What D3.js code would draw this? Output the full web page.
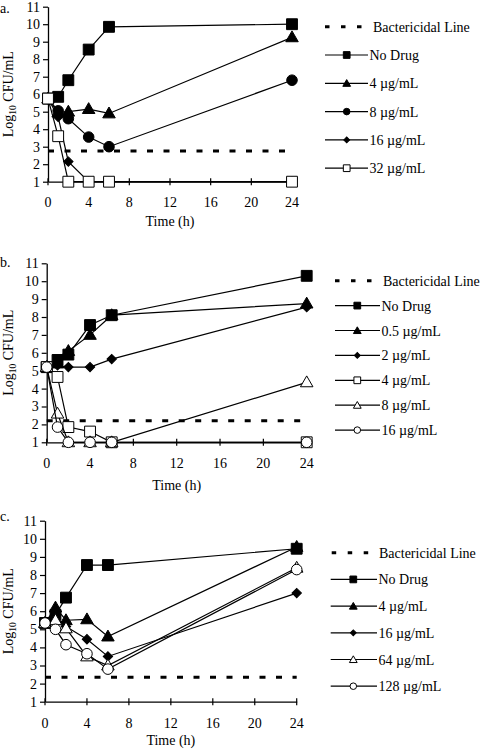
<!DOCTYPE html>
<html><head><meta charset="utf-8">
<script src="https://cdn.jsdelivr.net/npm/d3@7"></script>
<style>body{margin:0;background:#fff} text{font-family:"Liberation Serif","Times New Roman",serif;fill:#000}</style>
</head><body><svg id="chart" width="482" height="750"></svg>
<script>
// ---------- data ----------
const times = [0, 1, 2, 4, 6, 24];
const xTicks = [0, 4, 8, 12, 16, 20, 24];
const yTicks = [1, 2, 3, 4, 5, 6, 7, 8, 9, 10, 11];
const bactLabel = "Bactericidal Line";

// panel a
const labelsA = ["No Drug", "4 µg/mL", "8 µg/mL", "16 µg/mL", "32 µg/mL"];
const markersA = ["squareFilled", "triangleFilled", "circleFilled", "diamondFilled", "squareOpen"];
const noDrugA = [5.75, 5.85, 6.8, 8.55, 9.85, 10.0];
const conc4A  = [5.75, 4.95, 5.0, 5.15, 4.9, 9.25];
const conc8A  = [5.75, 5.05, 4.6, 3.55, 3.0, 6.8];
const conc16A = [5.75, 4.7, 2.15, 1.0, 1.0, 1.0];
const conc32A = [5.75, 3.6, 1.0, 1.0, 1.0, 1.0];
const bactA = 2.75;

// panel b
const labelsB = ["No Drug", "0.5 µg/mL", "2 µg/mL", "4 µg/mL", "8 µg/mL", "16 µg/mL"];
const markersB = ["squareFilled", "triangleFilled", "diamondFilled", "squareOpen", "triangleOpen", "circleOpen"];
const noDrugB  = [5.2, 5.6, 5.9, 7.55, 8.1, 10.3];
const conc05B  = [5.2, 5.4, 6.1, 7.0, 8.1, 8.75];
const conc2B   = [5.2, 5.3, 5.2, 5.2, 5.65, 8.55];
const conc4B   = [5.2, 4.65, 1.85, 1.6, 1.0, 1.0];
const conc8B   = [5.2, 2.6, 1.0, 1.0, 1.0, 4.35];
const conc16B  = [5.2, 1.85, 1.0, 1.0, 1.0, 1.0];
const bactB = 2.2;

// panel c
const labelsC = ["No Drug", "4 µg/mL", "16 µg/mL", "64 µg/mL", "128 µg/mL"];
const markersC = ["squareFilled", "triangleFilled", "diamondFilled", "triangleOpen", "circleOpen"];
const noDrugC   = [5.35, 5.8, 6.75, 8.55, 8.55, 9.45];
const conc4C    = [5.35, 6.2, 5.5, 5.55, 4.6, 9.55];
const conc16C   = [5.35, 5.7, 5.15, 4.45, 3.5, 7.0];
const conc64C   = [5.35, 5.5, 5.05, 3.5, 3.0, 8.4];
const conc128C  = [5.35, 5.0, 4.15, 3.65, 2.8, 8.3];
const bactC = 2.35;

// ---------- layout ----------
const panels = [
  {tag: "a.", tagY: 12.5, labels: labelsA, markers: markersA, series: [noDrugA, conc4A, conc8A, conc16A, conc32A], bact: bactA,
   x0: 48, x1: 292, yTop: 6.7, yBot: 181.7, tickBase: 207, titleBase: 226,
   leg: {dash0: 325, dash1: 362, dashText: 373, line0: 325, line1: 368, mark: 346.7, text: 369.5, y0: 26.7, dy: 28.3}},
  {tag: "b.", tagY: 267, labels: labelsB, markers: markersB, series: [noDrugB, conc05B, conc2B, conc4B, conc8B, conc16B], bact: bactB,
   x0: 46.7, x1: 306.7, yTop: 263.3, yBot: 442.3, tickBase: 468, titleBase: 490,
   leg: {dash0: 335, dash1: 373, dashText: 383, line0: 335, line1: 380, mark: 357.3, text: 381.5, y0: 280.7, dy: 24.9}},
  {tag: "c.", tagY: 521, labels: labelsC, markers: markersC, series: [noDrugC, conc4C, conc16C, conc64C, conc128C], bact: bactC,
   x0: 45, x1: 296.7, yTop: 520.7, yBot: 701.7, tickBase: 727.5, titleBase: 745,
   leg: {dash0: 331.7, dash1: 369, dashText: 379, line0: 330.7, line1: 377, mark: 353.3, text: 378.5, y0: 552.7, dy: 26.7}}
];

const svg = d3.select("#chart");

function drawMarker(g, type, x, y, small) {
  const k = small ? 0.62 : 1;
  const filled = type.endsWith("Filled");
  let shape, size, rot = 0;
  if (type.startsWith("square")) { shape = d3.symbolSquare; size = 118; }
  else if (type.startsWith("triangle")) { shape = d3.symbolTriangle; size = 68; }
  else if (type.startsWith("circle")) { shape = d3.symbolCircle; size = 88; }
  else { shape = d3.symbolSquare; size = 44; rot = 45; }
  g.append("path")
    .attr("d", d3.symbol().type(shape).size(size * k * k)())
    .attr("transform", `translate(${x},${y}) rotate(${rot})` + (type.startsWith("triangle") ? " translate(0,0.8)" : ""))
    .attr("fill", filled ? "#000" : "#fff")
    .attr("stroke", "#000").attr("stroke-width", 1);
}

panels.forEach(p => {
  const g = svg.append("g");
  const x = d3.scaleLinear().domain([0, 24]).range([p.x0, p.x1]);
  const y = d3.scaleLinear().domain([1, 11]).range([p.yBot, p.yTop]);

  g.append("text").attr("x", 0).attr("y", p.tagY).attr("font-size", 14).text(p.tag);

  // y axis
  const ya = g.append("g").attr("transform", `translate(${p.x0},0)`)
    .call(d3.axisLeft(y).tickValues(yTicks).tickSize(5).tickSizeOuter(0).tickPadding(3));
  ya.select(".domain").attr("stroke", "#000").attr("stroke-width", 1.3);
  ya.selectAll(".tick line").attr("stroke", "#000").attr("stroke-width", 1.2);
  ya.selectAll(".tick text").attr("font-size", 14).attr("font-family", '"Liberation Serif",serif').attr("fill", "#000");

  // x axis (ticks crossing the axis)
  const xa = g.append("g").attr("transform", `translate(0,${p.yBot})`)
    .call(d3.axisBottom(x).tickValues(xTicks).tickSize(0).tickSizeOuter(0).tickFormat(() => ""));
  xa.select(".domain").attr("stroke", "#000").attr("stroke-width", 1.3);
  g.selectAll(null).data(xTicks).enter().append("line")
    .attr("x1", d => x(d)).attr("x2", d => x(d))
    .attr("y1", p.yBot - 3.5).attr("y2", p.yBot + 3.5)
    .attr("stroke", "#000").attr("stroke-width", 1.2);
  g.selectAll(null).data(xTicks).enter().append("text")
    .attr("x", d => x(d)).attr("y", p.tickBase).attr("text-anchor", "middle").attr("font-size", 14)
    .text(d => d);

  // axis titles
  g.append("text").attr("x", (p.x0 + p.x1) / 2).attr("y", p.titleBase).attr("text-anchor", "middle")
    .attr("font-size", 14).text("Time (h)");
  const yl = g.append("text").attr("transform", `translate(12.5,${(p.yTop + p.yBot) / 2}) rotate(-90)`)
    .attr("text-anchor", "middle").attr("font-size", 14);
  yl.append("tspan").text("Log");
  yl.append("tspan").attr("font-size", 9.5).attr("dy", 3).text("10");
  yl.append("tspan").attr("dy", -3).text(" CFU/mL");

  // bactericidal line
  g.append("line").attr("x1", x(0)).attr("x2", x(24)).attr("y1", y(p.bact)).attr("y2", y(p.bact))
    .attr("stroke", "#000").attr("stroke-width", 3).attr("stroke-dasharray", "6,10.5");

  // series
  const line = d3.line().x((d, i) => x(times[i])).y(d => y(d));
  p.series.forEach((vals, si) => {
    const sg = g.append("g");
    sg.append("path").attr("d", line(vals)).attr("fill", "none").attr("stroke", "#000").attr("stroke-width", 1.2);
    vals.forEach((v, i) => drawMarker(sg, p.markers[si], x(times[i]), y(v), false));
  });

  // legend
  const L = p.leg;
  const lg = g.append("g");
  lg.append("line").attr("x1", L.dash0).attr("x2", L.dash1).attr("y1", L.y0).attr("y2", L.y0)
    .attr("stroke", "#000").attr("stroke-width", 3).attr("stroke-dasharray", "4.5,11.5");
  lg.append("text").attr("x", L.dashText).attr("y", L.y0 + 5).attr("font-size", 14).text(bactLabel);
  p.labels.forEach((lab, i) => {
    const ly = L.y0 + L.dy * (i + 1);
    lg.append("line").attr("x1", L.line0).attr("x2", L.line1).attr("y1", ly).attr("y2", ly)
      .attr("stroke", "#000").attr("stroke-width", 1.2);
    drawMarker(lg, p.markers[i], L.mark, ly, true);
    lg.append("text").attr("x", L.text).attr("y", ly + 5).attr("font-size", 14).text(lab);
  });
});
</script>
</body></html>
